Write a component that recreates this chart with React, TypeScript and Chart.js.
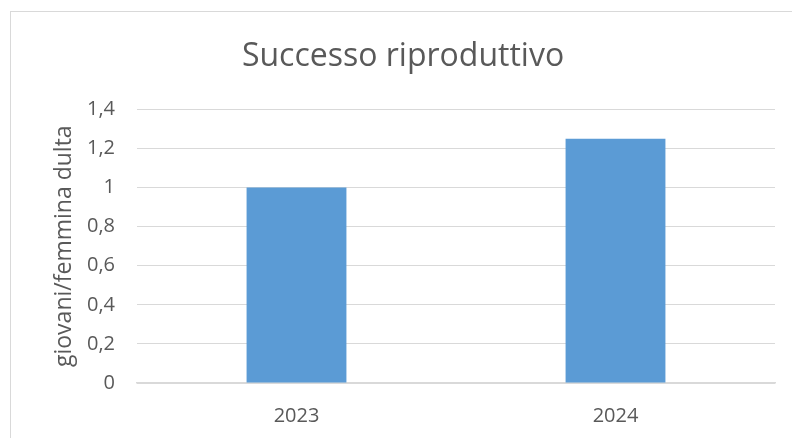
import React, { useEffect, useRef } from "react";
import { Chart, registerables } from "chart.js";

Chart.register(...registerables);

const categories = ["2023", "2024"];
const values = [1, 1.25];
const chartTitle = "Successo riproduttivo";
const yAxisTitle = "giovani/femmina dulta";
const yMin = 0;
const yMax = 1.4;
const yStep = 0.2;

const W = 792;
const H = 438;
const FONT = "'Open Sans', sans-serif";
const TEXT = "#595959";
const GRID = "#d9d9d9";

const frame = {
  id: "frame",
  beforeDraw(chart: any) {
    const ctx = chart.ctx;
    ctx.save();
    ctx.fillStyle = "#ffffff";
    ctx.fillRect(0, 0, chart.width, chart.height);
    ctx.strokeStyle = GRID;
    ctx.lineWidth = 1;
    ctx.strokeRect(10.5, 11.5, chart.width + 20, chart.height + 20);
    ctx.restore();
  },
};

export default function App() {
  const ref = useRef<HTMLCanvasElement>(null);
  useEffect(() => {
    if (!ref.current) return;
    const chart = new Chart(ref.current, {
      type: "bar",
      data: {
        labels: categories,
        datasets: [
          {
            data: values,
            backgroundColor: "#5B9BD5",
            borderWidth: 0,
            categoryPercentage: 1,
            barPercentage: 0.313,
          },
        ],
      },
      plugins: [frame],
      options: {
        responsive: false,
        animation: false,
        devicePixelRatio: 1,
        layout: { padding: { left: 31, right: 17, top: 0, bottom: 0 } },
        plugins: {
          legend: { display: false },
          tooltip: { enabled: false },
          title: {
            display: true,
            text: chartTitle,
            color: TEXT,
            font: { family: FONT, size: 32, weight: "normal", lineHeight: 1.2 },
            padding: { top: 38, bottom: 33 },
          },
        },
        scales: {
          x: {
            grid: { display: false, drawTicks: false },
            border: { color: GRID, width: 1.5 },
            ticks: { color: TEXT, font: { family: FONT, size: 20 }, padding: 21 },
            afterFit: (s: any) => {
              s.height = 55;
            },
          },
          y: {
            min: yMin,
            max: yMax,
            grid: { color: GRID, lineWidth: 1, drawTicks: false },
            border: { display: false },
            ticks: {
              stepSize: yStep,
              color: TEXT,
              font: { family: FONT, size: 20 },
              padding: 22,
              callback: (v: any) => String(Number(Number(v).toFixed(1))).replace(".", ","),
            },
            title: {
              display: true,
              text: yAxisTitle,
              color: TEXT,
              font: { family: FONT, size: 23 },
              padding: { top: 20, bottom: 0 },
            },
            afterFit: (s: any) => {
              s.width = 106;
            },
          },
        },
      },
    });
    return () => chart.destroy();
  }, []);
  return (
    <div style={{ position: "fixed", left: 0, top: 0, width: W, height: H, background: "#fff" }}>
      <canvas ref={ref} width={W} height={H} style={{ display: "block" }} />
    </div>
  );
}
